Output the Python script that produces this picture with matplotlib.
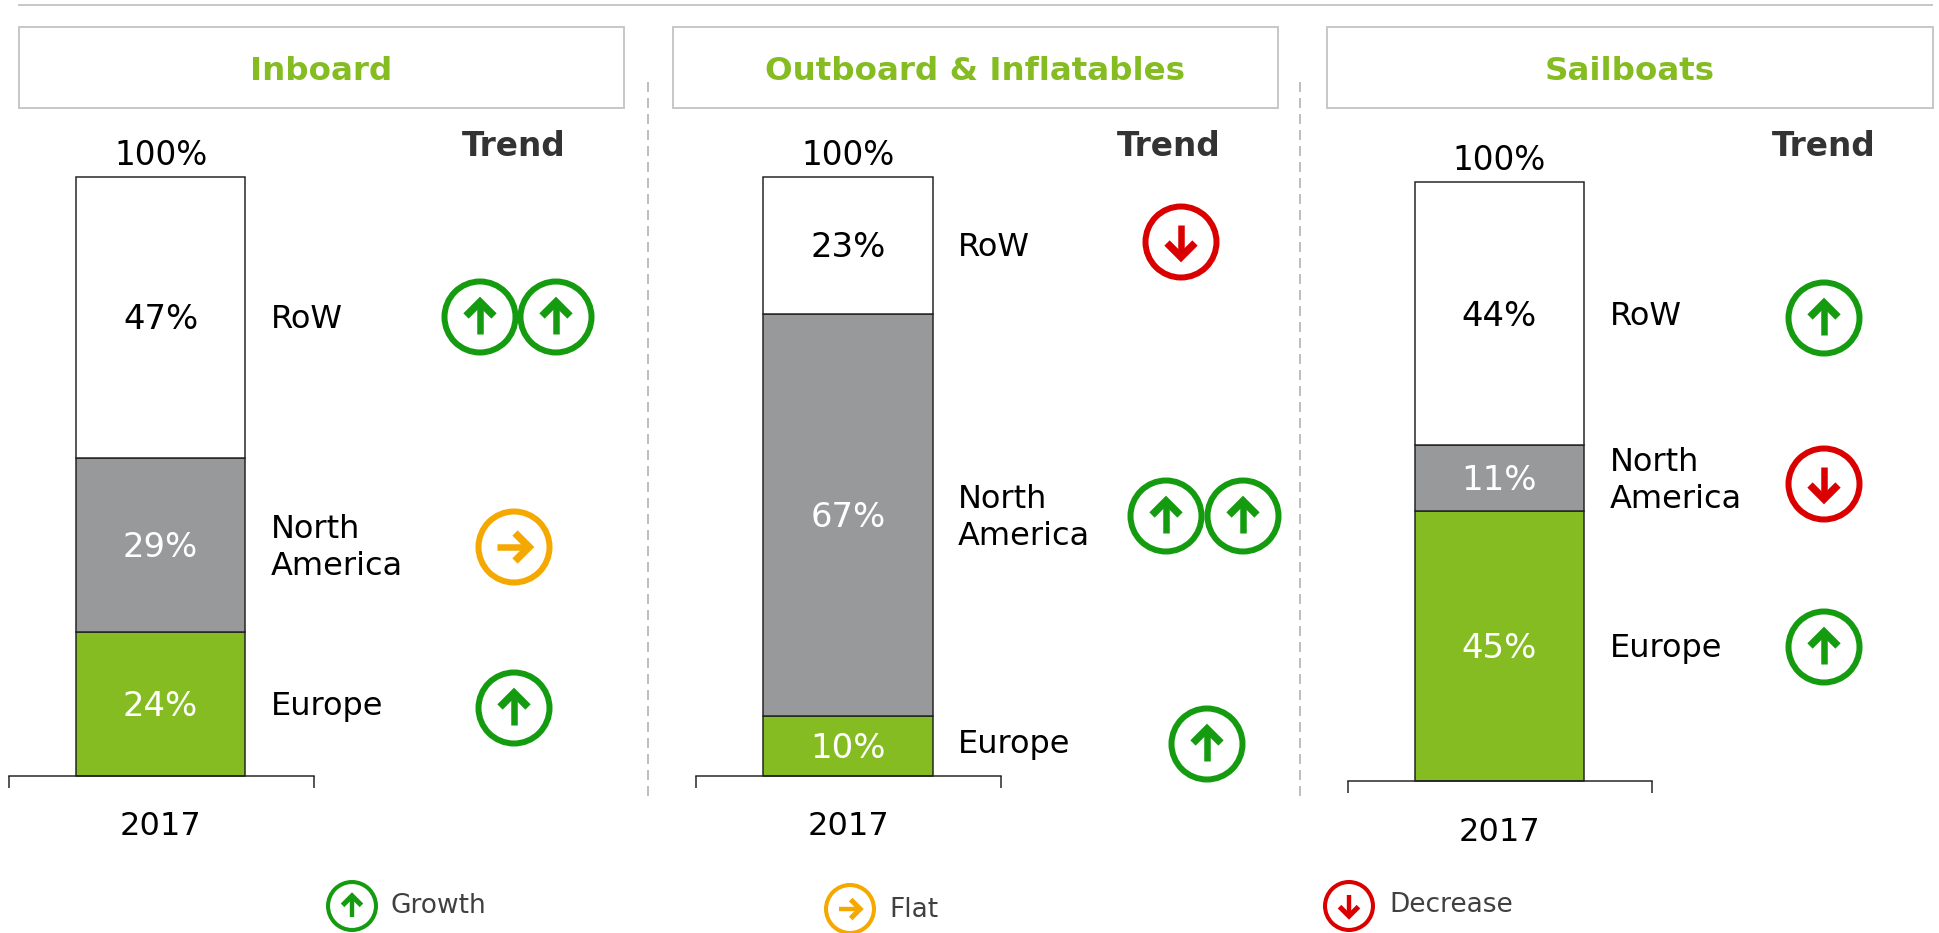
import matplotlib
matplotlib.use("Agg")
import matplotlib.pyplot as plt
from matplotlib.patches import Rectangle, Circle
from matplotlib.lines import Line2D

# ---- data ----
panels = ["Inboard", "Outboard & Inflatables", "Sailboats"]
regions = ["Europe", "North\nAmerica", "RoW"]
inboard_values = [24, 29, 47]
outboard_values = [10, 67, 23]
sailboat_values = [45, 11, 44]
year_label = "2017"
total_label = "100%"
inboard_trend = [["up"], ["flat"], ["up", "up"]]
outboard_trend = [["up"], ["up", "up"], ["down"]]
sailboat_trend = [["up"], ["down"], ["up"]]
legend_items = [("up", "Growth"), ("flat", "Flat"), ("down", "Decrease")]

# ---- style / layout ----
W, H = 1939, 933
GREEN, GREY, WHITE = "#85BC22", "#97999B", "#FFFFFF"
ICON = {"up": "#149B10", "flat": "#F5A800", "down": "#DA0000"}
seg_colors = [GREEN, GREY, WHITE]
seg_text = ["white", "white", "black"]
FS = 23
px = 72 / 100  # points per pixel

layout = [
    dict(values=inboard_values, trend=inboard_trend, box=(19, 624), title_x=321,
         bracket=(9, 313.5), bar=(75.8, 245.4), top=176.5, bottom=776, trend_x=513.5,
         side_x=271, side_dy=[0, 0, 0], total_y=155.5, year_y=828,
         icons=[[(514, 708)], [(514, 547)], [(480, 317), (556, 317)]]),
    dict(values=outboard_values, trend=outboard_trend, box=(673, 1278), title_x=975,
         bracket=(696, 1001), bar=(763, 933), top=176.5, bottom=776, trend_x=1168.6,
         side_x=958, side_dy=[-4, 0, 0], total_y=155.5, year_y=828,
         icons=[[(1207, 744)], [(1166, 516), (1243, 516)], [(1181, 242)]]),
    dict(values=sailboat_values, trend=sailboat_trend, box=(1327, 1933), title_x=1630,
         bracket=(1348, 1652), bar=(1414.7, 1584), top=181.7, bottom=781, trend_x=1824,
         side_x=1610, side_dy=[0, 0, 0], total_y=160.5, year_y=834,
         icons=[[(1824, 647)], [(1824, 484)], [(1824, 318)]]),
]
legend_pos = [((352, 906), 390.6, 906), ((850, 909), 889, 910), ((1349, 906), 1389, 905)]

plt.rcParams["font.family"] = ["DejaVu Sans"]
fig = plt.figure(figsize=(W / 100, H / 100), dpi=100, facecolor="white")

# overlay in pixel coordinates for the slide furniture
bg = fig.add_axes([0, 0, 1, 1])
bg.set_xlim(0, W)
bg.set_ylim(H, 0)
bg.axis("off")


def draw_icon(cx, cy, kind, r=38.5):
    s = r / 38.5
    c = ICON[kind]
    bg.add_patch(Circle((cx, cy), r - 3 * s, fc="white", ec=c, lw=6.0 * s * px, zorder=5))

    def pts(points):
        out_x, out_y = [], []
        for a, b in points:
            if kind == "up":
                x, y = a, b
            elif kind == "down":
                x, y = a, -b
            else:
                x, y = -b, a
            out_x.append(cx + x * s)
            out_y.append(cy + y * s)
        return out_x, out_y

    x, y = pts([(0, -14), (0, 17)])
    bg.add_line(Line2D(x, y, color=c, lw=6.5 * s * px, solid_capstyle="butt", zorder=6))
    x, y = pts([(-14, -1), (0, -15), (14, -1)])
    bg.add_line(Line2D(x, y, color=c, lw=7.5 * s * px, solid_capstyle="butt",
                       solid_joinstyle="miter", zorder=6))


bg.add_line(Line2D([19, 1932], [5, 5], color="#C8C8C8", lw=2 * px))
for dx in (648, 1300):
    bg.add_line(Line2D([dx, dx], [82, 800], color="#BFBFBF", lw=2 * px, dashes=(5, 3)))

for name, p in zip(panels, layout):
    x0, x1 = p["box"]
    bg.add_patch(Rectangle((x0, 27), x1 - x0, 81, fc="white", ec="#C8C8C8", lw=2 * px))
    bg.text(p["title_x"], 71.5, name, color=GREEN, fontsize=23.4, fontweight="bold",
            ha="center", va="center")
    bg.text(p["trend_x"], 146.5, "Trend", color="#333333", fontsize=23.6, fontweight="bold",
            ha="center", va="center")

    # the stacked bar, in its own axes
    bl, br = p["bracket"]
    b0, b1 = p["bar"]
    cx = (b0 + b1) / 2
    bw = b1 - b0
    ax = fig.add_axes([bl / W, 1 - p["bottom"] / H, (br - bl) / W,
                       (p["bottom"] - p["top"]) / H])
    ax.patch.set_alpha(0)
    ax.set_xlim((bl - cx) / bw, (br - cx) / bw)
    ax.set_ylim(0, 100)
    for s in ("top", "left", "right"):
        ax.spines[s].set_visible(False)
    ax.spines["bottom"].set_linewidth(1.5 * px)
    ax.spines["bottom"].set_color("#222222")
    ax.yaxis.set_visible(False)
    ax.set_xticks(list(ax.get_xlim()), labels=["", ""])
    ax.tick_params(axis="x", which="major", length=12 * px, width=1.5 * px, color="#222222")
    ax.set_xticks([0], labels=[year_label], minor=True)
    ax.tick_params(axis="x", which="minor", length=0, labelsize=FS,
                   pad=(p["year_y"] - p["bottom"] - 17) * px)

    base = 0
    for i, (v, reg) in enumerate(zip(p["values"], regions)):
        ax.bar(0, v, width=1.0, bottom=base, color=seg_colors[i], edgecolor="#222222",
               linewidth=1.5 * px, clip_on=False)
        mid = base + v / 2
        ax.annotate(f"{v}%", xy=(0, mid), xytext=(0, -2.5 * px), textcoords="offset points",
                    color=seg_text[i], fontsize=24.4, ha="center", va="center")
        ax.annotate(reg, xy=((p["side_x"] - cx) / bw, mid), xycoords="data",
                    xytext=(0, -(p["side_dy"][i] + 2.5) * px), textcoords="offset points",
                    fontsize=FS, ha="left", va="center", color="black",
                    linespacing=1.25, annotation_clip=False)
        base += v
    bg.text(cx, p["total_y"], total_label, color="black", fontsize=23.6,
            ha="center", va="center")

    for row, pos in zip(p["trend"], p["icons"]):
        for kind, (ix, iy) in zip(row, pos):
            draw_icon(ix, iy, kind)

for (kind, label), ((ix, iy), tx, ty) in zip(legend_items, legend_pos):
    draw_icon(ix, iy, kind, r=26)
    bg.text(tx, ty, label, color="#404040", fontsize=19, ha="left", va="center")

fig.savefig("out.png", dpi=100, facecolor="white")
